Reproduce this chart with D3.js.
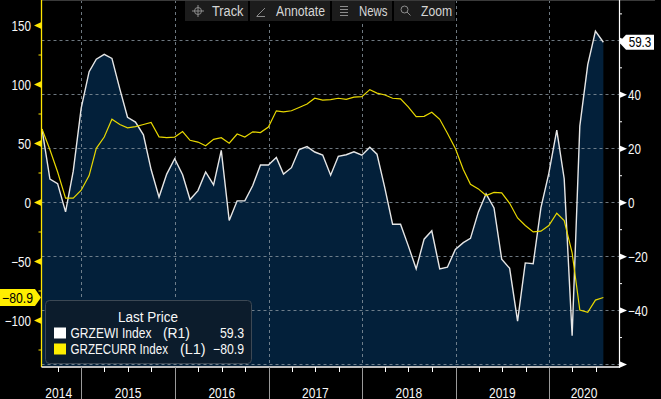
<!DOCTYPE html>
<html>
<head>
<meta charset="utf-8">
<script src="https://cdn.jsdelivr.net/npm/d3@7"></script>
<style>
  html, body { margin: 0; padding: 0; background: #000; overflow: hidden; }
  svg { display: block; }
  text { font-family: "Liberation Sans", Arial, sans-serif; }
</style>
</head>
<body>
<div id="viz"></div>
<script>
// ZEW Germany, monthly values, first one is July 2014
const firstMonth = new Date(2014, 6, 1);

// GRZEWI Index (economic sentiment) - right axis, filled
const sentiment = [
  27.1, 8.6, 6.9, -3.6, 11.5, 34.9,
  48.4, 53.0, 54.8, 53.3, 41.9, 31.5, 29.7, 25.0, 12.1, 1.9, 10.4, 16.1,
  10.2, 1.0, 4.3, 11.2, 6.4, 19.2, -6.8, 0.5, 0.5, 6.2, 13.8, 13.8,
  16.6, 10.4, 12.8, 19.5, 20.6, 18.6, 17.5, 10.0, 17.0, 17.6, 18.7, 17.4,
  20.4, 17.8, 5.1, -8.2, -8.2, -16.1, -24.7, -13.7, -10.6, -24.7, -24.1, -17.5,
  -15.0, -13.4, -3.6, 3.1, -2.1, -21.1, -24.5, -44.1, -22.5, -22.8, -2.1, 10.7,
  26.7, 8.7, -49.5, 28.2, 51.0, 63.4, 59.3
];

// GRZECURR Index (current situation) - left axis, yellow line
const current = [
  61.8, 44.3, 25.4, 3.2, 3.2, 10.0,
  22.4, 45.5, 55.1, 70.2, 65.7, 62.9, 63.9, 65.7, 67.5, 55.2, 54.6, 55.0,
  59.7, 52.3, 50.8, 47.7, 53.1, 54.5, 49.8, 57.6, 55.1, 59.5, 58.8, 63.5,
  77.3, 76.4, 77.3, 80.1, 83.0, 88.0, 86.4, 86.7, 87.9, 87.0, 88.8, 89.3,
  95.2, 92.3, 90.7, 87.9, 87.4, 80.6, 72.4, 72.6, 76.0, 70.1, 58.2, 45.3,
  27.6, 15.0, 11.1, 5.5, 8.2, 7.8, -1.1, -13.5, -19.9, -25.3, -24.7, -19.9,
  -9.5, -15.7, -43.1, -91.5, -93.5, -83.1, -80.9
];

const leftTicks = [150, 100, 50, 0, -50, -100];
const leftMinor = [125, 75, 25, -25, -75, -125];
const rightTicks = [60, 40, 20, 0, -20, -40, -60];
const rightLabels = [40, 20, 0, -20, -40];
const rightMinor = [70, 50, 30, 10, -10, -30, -50];
const years = [2014, 2015, 2016, 2017, 2018, 2019, 2020];
const toolButtons = ["Track", "Annotate", "News", "Zoom"];
const legendRows = [
  { name: "GRZEWI Index", tag: "(R1)", value: "59.3", color: "#ffffff" },
  { name: "GRZECURR Index", tag: "(L1)", value: "−80.9", color: "#ffee00" }
];

// month end dates for each value
let dates = sentiment.map((d, i) => d3.timeDay.offset(d3.timeMonth.offset(firstMonth, i + 1), -1));
let rows = dates.map((d, i) => ({ date: d, ewi: sentiment[i], curr: current[i] }));

let width = 661;
let height = 399;
let plot = { left: 41.5, right: 619, top: 0, bottom: 366 };
let textColor = "#f8f8f8";

// Bloomberg's face is narrower than Liberation Sans: squeeze text to a width
function squeeze(sel, k) {
  sel.each(function () {
    let w = this.getComputedTextLength();
    if (w > 0) {
      d3.select(this)
        .attr("textLength", (w * k).toFixed(1))
        .attr("lengthAdjust", "spacingAndGlyphs");
    }
  });
}

function fitWidth(sel, w) {
  sel.attr("textLength", w).attr("lengthAdjust", "spacingAndGlyphs");
}

// squeeze with a transform instead, text drawn at (x, y) with left anchor
function scaledText(parent, x, y, str, w) {
  let t = parent.append("text")
    .attr("font-size", "14px")
    .attr("fill", textColor)
    .text(str);
  let k = w / t.node().getComputedTextLength();
  t.attr("transform", `translate(${x},${y}) scale(${k.toFixed(3)},1)`);
  return t;
}

let svg = d3.select("#viz")
  .append("svg")
  .attr("width", width)
  .attr("height", height);

let xScale = d3.scaleTime()
  .domain([new Date(2014, 6, 31), new Date(2020, 8, 30)])
  .range([42, 619]);

let yLeft = d3.scaleLinear().domain([0, 150]).range([202, 25]);
let yRight = d3.scaleLinear().domain([0, 40]).range([202.2, 94.3]);

// filled area for GRZEWI
let area = d3.area()
  .x(d => xScale(d.date))
  .y0(plot.bottom)
  .y1(d => yRight(d.ewi));

svg.append("path")
  .datum(rows)
  .attr("d", area)
  .attr("fill", "#03203a");

// dashed grid
let yearStarts = years.slice(1).map(y => new Date(y, 0, 1));

svg.append("g")
  .selectAll("line")
  .data(rightTicks)
  .join("line")
  .attr("x1", plot.left)
  .attr("x2", plot.right)
  .attr("y1", d => Math.round(yRight(d)) + 0.5)
  .attr("y2", d => Math.round(yRight(d)) + 0.5)
  .attr("stroke", "#8a96a0")
  .attr("stroke-opacity", 0.8)
  .attr("stroke-dasharray", "3,3");

svg.append("g")
  .selectAll("line")
  .data(yearStarts)
  .join("line")
  .attr("x1", d => Math.round(xScale(d)) + 0.5)
  .attr("x2", d => Math.round(xScale(d)) + 0.5)
  .attr("y1", plot.top)
  .attr("y2", plot.bottom)
  .attr("stroke", "#8a96a0")
  .attr("stroke-opacity", 0.8)
  .attr("stroke-dasharray", "3,3");

// series lines
let ewiLine = d3.line().x(d => xScale(d.date)).y(d => yRight(d.ewi));
let currLine = d3.line().x(d => xScale(d.date)).y(d => yLeft(d.curr));

svg.append("path")
  .datum(rows)
  .attr("d", ewiLine)
  .attr("fill", "none")
  .attr("stroke", "#e6e6e6")
  .attr("stroke-width", 1.4);

svg.append("path")
  .datum(rows)
  .attr("d", currLine)
  .attr("fill", "none")
  .attr("stroke", "#e8d800")
  .attr("stroke-width", 1.2);

// top frame line
svg.append("line")
  .attr("x1", plot.left).attr("x2", 655)
  .attr("y1", 0.5).attr("y2", 0.5)
  .attr("stroke", "#3a3a3a");

// left axis (yellow)
function leftAxis(g) {
  g.attr("transform", `translate(${plot.left}, 0)`)
    .call(d3.axisLeft(yLeft).tickValues(leftTicks).tickSize(0).tickPadding(10.5))
    .call(g => g.select(".domain").remove())
    .call(g => g.selectAll("text")
      .attr("fill", textColor)
      .attr("font-size", "14px")
      .attr("dy", "0.36em"));
  g.selectAll(".tick")
    .append("path")
    .attr("d", "M-7.5,0L0,-3.5L0,3.5Z")
    .attr("fill", "#ffe600");
  squeeze(g.selectAll("text"), 0.83);
}

function leftMinorAxis(g) {
  g.attr("transform", `translate(${plot.left}, 0)`)
    .call(d3.axisLeft(yLeft).tickValues(leftMinor).tickSize(3).tickFormat(""))
    .call(g => g.select(".domain").remove())
    .call(g => g.selectAll("line").attr("stroke", "#ffe600"));
}

svg.append("g").call(leftAxis);
svg.append("g").call(leftMinorAxis);
svg.append("line")
  .attr("x1", plot.left).attr("x2", plot.left)
  .attr("y1", 0).attr("y2", 367)
  .attr("stroke", "#ffe600")
  .attr("stroke-width", 1.3);

// right axis (white)
function rightAxis(g) {
  g.attr("transform", `translate(${plot.right}, 0)`)
    .call(d3.axisRight(yRight).tickValues(rightTicks).tickSize(0).tickPadding(9)
      .tickFormat(d => rightLabels.includes(d) ? d3.format("")(d) : ""))
    .call(g => g.select(".domain").remove())
    .call(g => g.selectAll("text")
      .attr("fill", textColor)
      .attr("font-size", "14px")
      .attr("dy", "0.36em"));
  g.selectAll(".tick")
    .append("path")
    .attr("d", "M8,0L0,-3.5L0,3.5Z")
    .attr("fill", "#ffffff");
  squeeze(g.selectAll("text"), 0.83);
}

function rightMinorAxis(g) {
  g.attr("transform", `translate(${plot.right}, 0)`)
    .call(d3.axisRight(yRight).tickValues(rightMinor).tickSize(3).tickFormat(""))
    .call(g => g.select(".domain").remove())
    .call(g => g.selectAll("line").attr("stroke", "#ffffff"));
}

svg.append("g").call(rightAxis);
svg.append("g").call(rightMinorAxis);
svg.append("line")
  .attr("x1", plot.right + 0.5).attr("x2", plot.right + 0.5)
  .attr("y1", 0).attr("y2", 367)
  .attr("stroke", "#ffffff")
  .attr("stroke-width", 1.2);

// x axis
let quarterTicks = d3.timeMonth.every(3).range(xScale.domain()[0], xScale.domain()[1])
  .filter(d => d.getMonth() !== 0);

svg.append("line")
  .attr("x1", plot.left).attr("x2", plot.right + 1)
  .attr("y1", 367).attr("y2", 367)
  .attr("stroke", "#ffffff")
  .attr("stroke-width", 1.3);

svg.append("g")
  .selectAll("line")
  .data(quarterTicks)
  .join("line")
  .attr("x1", d => Math.round(xScale(d)) + 0.5)
  .attr("x2", d => Math.round(xScale(d)) + 0.5)
  .attr("y1", 367)
  .attr("y2", 372)
  .attr("stroke", "#ffffff");

svg.append("g")
  .selectAll("line")
  .data(yearStarts)
  .join("line")
  .attr("x1", d => Math.round(xScale(d)) + 0.5)
  .attr("x2", d => Math.round(xScale(d)) + 0.5)
  .attr("y1", 367)
  .attr("y2", height)
  .attr("stroke", "#9a9a9a");

svg.append("g")
  .selectAll("text")
  .data(years)
  .join("text")
  .attr("x", y => {
    let a = Math.max(xScale(new Date(y, 0, 1)), xScale.range()[0]);
    let b = Math.min(xScale(new Date(y + 1, 0, 1)), xScale.range()[1]);
    return (a + b) / 2 - (y === years[0] ? 3 : 0);
  })
  .attr("y", 397.5)
  .attr("text-anchor", "middle")
  .attr("fill", textColor)
  .attr("font-size", "14px")
  .text(y => y)
  .call(fitWidth, 26.7);

// last value tags
let lastRow = rows[rows.length - 1];
let tagR = yRight(lastRow.ewi);
svg.append("path")
  .attr("d", `M${plot.right},${tagR}L${plot.right + 7},${tagR - 7.5}H654V${tagR + 7.5}H${plot.right + 7}Z`)
  .attr("fill", "#ffffff");
svg.append("text")
  .attr("x", 640)
  .attr("y", tagR)
  .attr("dy", "0.36em")
  .attr("text-anchor", "middle")
  .attr("font-size", "14px")
  .attr("fill", "#000")
  .text(d3.format(".1f")(lastRow.ewi))
  .call(fitWidth, 22.7);

let tagL = yLeft(lastRow.curr);
svg.append("path")
  .attr("d", `M0,${tagL - 8.5}H35L41,${tagL}L35,${tagL + 8.5}H0Z`)
  .attr("fill", "#ffee00");
svg.append("text")
  .attr("x", 17.5)
  .attr("y", tagL)
  .attr("dy", "0.36em")
  .attr("text-anchor", "middle")
  .attr("font-size", "14px")
  .attr("fill", "#000")
  .text(d3.format(".1f")(lastRow.curr))
  .call(fitWidth, 31);

// legend
let legend = svg.append("g");
legend.append("rect")
  .attr("x", 45.5).attr("y", 300.5)
  .attr("width", 206).attr("height", 63)
  .attr("rx", 4)
  .attr("fill", "#0c1c2c")
  .attr("stroke", "#3c4854");
legend.append("text")
  .attr("x", 148).attr("y", 322)
  .attr("text-anchor", "middle")
  .attr("font-size", "14px")
  .attr("fill", textColor)
  .text("Last Price")
  .call(fitWidth, 60);

let tagX = [163, 180];
let nameW = [81, 97.5];
let tagW = [27, 25.7];
let valueW = [24, 31];
legendRows.forEach((r, i) => {
  let base = 338 + i * 16;
  legend.append("rect")
    .attr("x", 54).attr("y", base - 10.5)
    .attr("width", 12).attr("height", 11)
    .attr("fill", r.color);
  scaledText(legend, 70.5, base, r.name, nameW[i]);
  scaledText(legend, tagX[i], base, r.tag, tagW[i]);
  scaledText(legend, 244 - valueW[i], base, r.value, valueW[i]);
});

// toolbar
let buttonX = [[185, 248], [250, 330], [332, 392], [394, 455]];
let textX = [212, 276, 359, 421];
let textW = [31.5, 49, 28.5, 31];
let toolbar = svg.append("g");
toolButtons.forEach((name, i) => {
  toolbar.append("rect")
    .attr("x", buttonX[i][0]).attr("y", 1)
    .attr("width", buttonX[i][1] - buttonX[i][0]).attr("height", 20)
    .attr("fill", "#1c1c1c");
  toolbar.append("text")
    .attr("x", textX[i]).attr("y", 16)
    .attr("font-size", "14px")
    .attr("fill", "#d6d6d6")
    .text(name)
    .call(fitWidth, textW[i]);
});

// toolbar icons
let ic = toolbar.append("g").attr("stroke", "#8c8c8c").attr("fill", "none").attr("stroke-width", 1);
ic.append("circle").attr("cx", 198).attr("cy", 11).attr("r", 3.5);
ic.append("path").attr("d", "M192,11H204M198,5V17");
ic.append("path").attr("d", "M257,16L265,8M256.5,16.5H265");
ic.append("path").attr("d", "M340,6.5H348M340,9.5H348M340,12.5H348M340,15.5H348");
ic.append("circle").attr("cx", 404.5).attr("cy", 9.5).attr("r", 3.5);
ic.append("path").attr("d", "M407,12L410.5,15.5");
</script>
</body>
</html>
